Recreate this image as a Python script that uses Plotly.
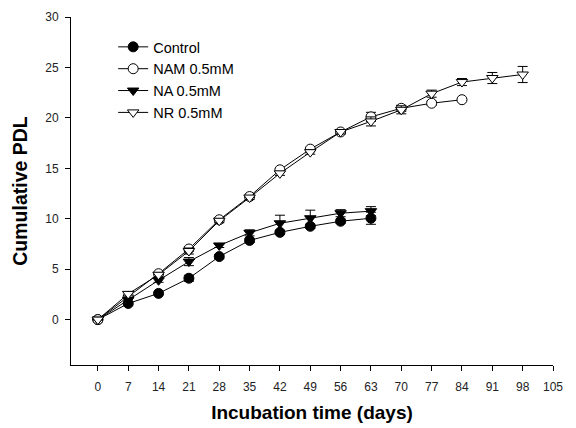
import plotly.graph_objects as go

days = [0, 7, 14, 21, 28, 35, 42, 49, 56, 63, 70, 77, 84, 91, 98]
xticks = [0, 7, 14, 21, 28, 35, 42, 49, 56, 63, 70, 77, 84, 91, 98, 105]
yticks = [0, 5, 10, 15, 20, 25, 30]

control = [0, 1.6, 2.6, 4.1, 6.25, 7.85, 8.65, 9.25, 9.75, 10.05]
control_err = [0, 0.15, 0.1, 0.3, 0.2, 0.2, 0.2, 0.2, 0.2, 0.6]

nam = [0, 2.3, 4.55, 7.0, 9.9, 12.2, 14.85, 16.9, 18.6, 20.1, 20.95, 21.45, 21.8]
nam_err = [0, 0.1, 0.1, 0.2, 0.2, 0.15, 0.15, 0.15, 0.15, 0.45, 0.3, 0.2, 0.1]

na = [0, 1.95, 3.9, 5.75, 7.35, 8.6, 9.55, 10.05, 10.55, 10.75]
na_err = [0, 0.2, 0.2, 0.4, 0.2, 0.3, 0.8, 0.8, 0.35, 0.45]

nr = [0, 2.55, 4.45, 6.8, 9.8, 12.1, 14.5, 16.6, 18.6, 19.65, 20.8, 22.4, 23.55, 23.95, 24.3]
nr_err = [0, 0.2, 0.2, 0.3, 0.2, 0.2, 0.2, 0.2, 0.2, 0.45, 0.4, 0.35, 0.35, 0.55, 0.8]

series = [
    ("Control", control, control_err, "circle", "black"),
    ("NAM 0.5mM", nam, nam_err, "circle", "white"),
    ("NA 0.5mM", na, na_err, "triangle-down", "black"),
    ("NR 0.5mM", nr, nr_err, "triangle-down", "white"),
]

FONT = "Liberation Sans, Arial, sans-serif"

fig = go.Figure()
for name, vals, err, sym, fill in series:
    fig.add_trace(go.Scatter(
        x=days[:len(vals)], y=vals, name=name, mode="lines+markers",
        line=dict(color="black", width=1),
        marker=dict(symbol=sym, size=10, color=fill,
                    line=dict(color="black", width=1)),
        error_y=dict(type="data", array=err, visible=True, color="black",
                     thickness=1, width=5),
    ))

fig.update_layout(
    width=576, height=428,
    margin=dict(l=71, r=23, t=17, b=63),
    plot_bgcolor="white", paper_bgcolor="white",
    font=dict(family=FONT, color="black", size=12),
    showlegend=True,
    legend=dict(x=0.0875, y=0.96, xanchor="left", yanchor="top",
                bgcolor="rgba(0,0,0,0)", borderwidth=0,
                font=dict(size=14.5, family=FONT), tracegroupgap=0),
    xaxis=dict(
        range=[-6.2, 105], tickmode="array", tickvals=xticks,
        ticktext=[str(d) for d in xticks], automargin=False,
        showline=True, linecolor="black", linewidth=1,
        ticks="outside", ticklen=5, tickcolor="black", tickwidth=1,
        ticklabelstandoff=6,
        showgrid=False, zeroline=False, mirror=False,
        tickfont=dict(size=12, color="#222"),
        title=dict(text="<b>Incubation time (days)</b>",
                   font=dict(size=19, family=FONT), standoff=12),
    ),
    yaxis=dict(
        range=[-4.5, 30], tickmode="array", tickvals=yticks, automargin=False,
        showline=True, linecolor="black", linewidth=1,
        ticks="outside", ticklen=5, tickcolor="black", tickwidth=1,
        ticklabelstandoff=4,
        showgrid=False, zeroline=False, mirror=False,
        tickfont=dict(size=12, color="#222"),
        title=dict(text="<b>Cumulative PDL</b>",
                   font=dict(size=19.5, family=FONT), standoff=12),
    ),
)

fig.write_html("out.html", config={"displayModeBar": False},
               post_script="document.body.style.margin='0';document.body.style.overflow='hidden';")
